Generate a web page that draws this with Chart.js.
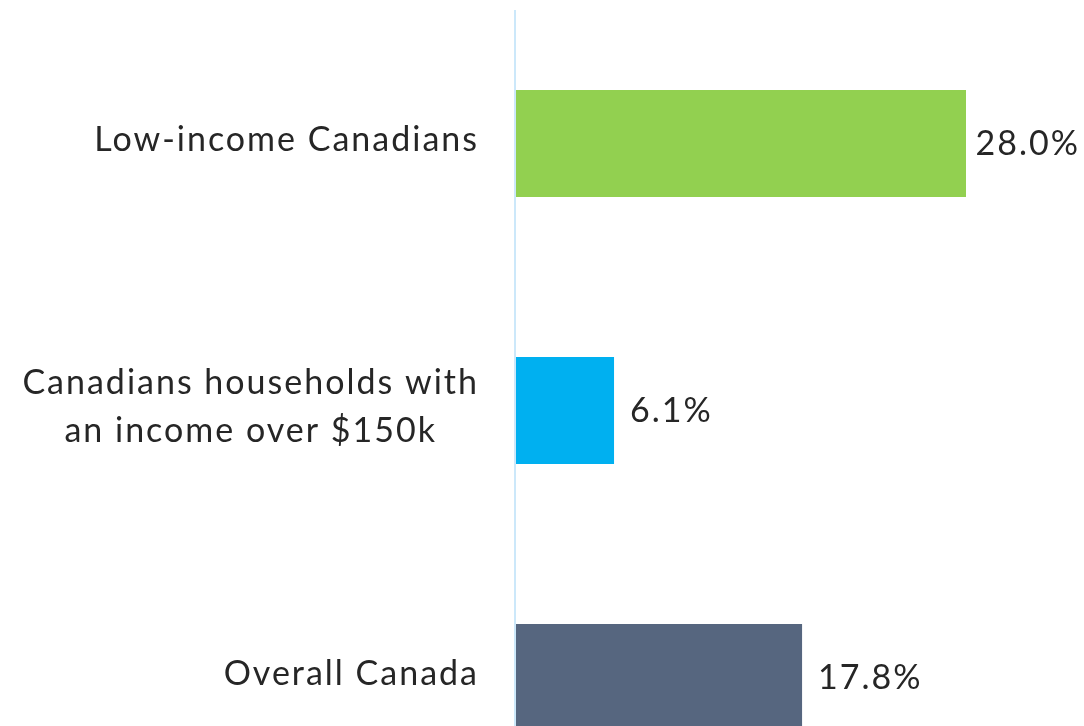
<!DOCTYPE html>
<html>
<head>
<meta charset="utf-8">
<script src="https://cdn.jsdelivr.net/npm/chart.js@4.4.1/dist/chart.umd.min.js"></script>
<style>
  html, body { margin: 0; padding: 0; background: #ffffff; overflow: hidden; }
  #wrap { position: absolute; left: 0; top: 0; width: 1084px; height: 811px; }
</style>
</head>
<body>
<div id="wrap"><canvas id="c"></canvas></div>
<script>
const categories = [
  ["Low-income Canadians"],
  ["Canadians households with", "an income over $150k"],
  ["Overall Canada"]
];
const values = [28.0, 6.1, 17.8];
const valueLabels = ["28.0%", "6.1%", "17.8%"];
const barColors = ["#92d050", "#00b0f0", "#56667f"];

const FONT = '34px Lato, "Open Sans", sans-serif';
const TEXT_COLOR = '#262626';

const customDraw = {
  id: 'customDraw',
  afterDatasetsDraw(chart) {
    const ctx = chart.ctx;
    const area = chart.chartArea;
    const y = chart.scales.y;
    const meta = chart.getDatasetMeta(0);
    ctx.save();
    // axis line
    ctx.fillStyle = '#cce8fa';
    ctx.fillRect(area.left - 2, area.top, 2, area.bottom - area.top);
    ctx.font = FONT;
    try { ctx.letterSpacing = '2px'; } catch (e) {}
    ctx.fillStyle = TEXT_COLOR;
    ctx.textBaseline = 'middle';
    const lineH = 48;
    const labelRight = area.left - 39;
    const measure = t => ctx.measureText(t).width - 2;
    categories.forEach((lines, i) => {
      const cy = y.getPixelForValue(i) - 3;
      const widths = lines.map(measure);
      const maxW = Math.max(...widths);
      const startY = cy - (lines.length - 1) * lineH / 2;
      ctx.textAlign = 'left';
      lines.forEach((l, k) => {
        const w = widths[k];
        const x = labelRight - maxW / 2 - w / 2;
        ctx.fillText(l, x, startY + k * lineH);
      });
    });
    // value labels
    ctx.textAlign = 'left';
    meta.data.forEach((bar, i) => {
      const t = valueLabels[i];
      const w = measure(t);
      let x = bar.x + 16;
      if (x + w > chart.width - 6) x = chart.width - 6 - w;
      ctx.fillText(t, x, bar.y + 1);
    });
    ctx.restore();
  }
};

new Chart(document.getElementById('c'), {
  type: 'bar',
  data: {
    labels: categories,
    datasets: [{
      data: values,
      backgroundColor: barColors,
      borderWidth: 0,
      categoryPercentage: 1.0,
      barPercentage: 0.4
    }]
  },
  options: {
    indexAxis: 'y',
    responsive: true,
    maintainAspectRatio: false,
    animation: false,
    layout: { padding: { left: 516, right: 5.5, top: 10, bottom: 0 } },
    plugins: { legend: { display: false }, tooltip: { enabled: false } },
    scales: {
      x: { display: false, min: 0, max: 35 },
      y: { display: false }
    }
  },
  plugins: [customDraw]
});
</script>
</body>
</html>
